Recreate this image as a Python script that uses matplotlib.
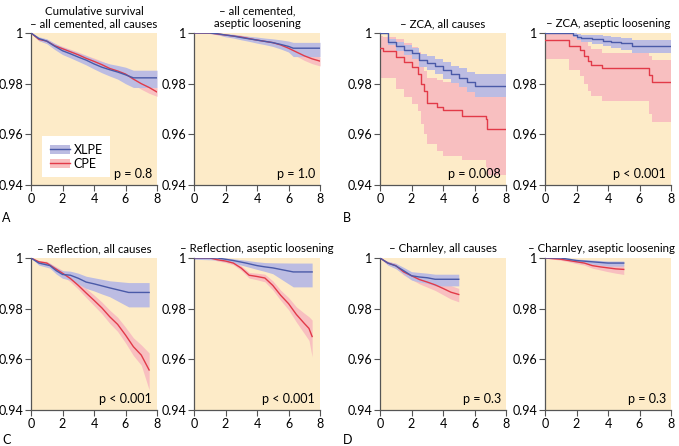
import matplotlib
matplotlib.use('Agg')
import matplotlib.pyplot as plt
from matplotlib.patches import Patch
from matplotlib.lines import Line2D

plt.rcParams['font.family'] = ['Lato', 'DejaVu Sans']
plt.rcParams['font.size'] = 9

# ---- data (years, cumulative survival, 95% band) ----
# A1: all cemented, all causes
a1_xlpe_t = [0, 0.5, 1, 1.5, 2, 2.5, 3, 3.5, 4, 4.5, 5, 5.5, 6, 6.5, 8]
a1_xlpe_s = [1.0, 0.9978, 0.9968, 0.9948, 0.9930, 0.9918, 0.9905, 0.9893, 0.9878, 0.9865, 0.9855, 0.9846, 0.9835, 0.9823, 0.9823]
a1_xlpe_lo = [1.0, 0.9970, 0.9958, 0.9935, 0.9915, 0.9902, 0.9888, 0.9874, 0.9858, 0.9843, 0.9830, 0.9818, 0.9800, 0.9785, 0.9785]
a1_xlpe_hi = [1.0, 0.9985, 0.9977, 0.9960, 0.9944, 0.9933, 0.9921, 0.9911, 0.9897, 0.9887, 0.9878, 0.9872, 0.9865, 0.9853, 0.9853]
a1_cpe_t = [0, 0.5, 1, 1.5, 2, 2.5, 3, 3.5, 4, 4.5, 5, 5.5, 6, 6.5, 7, 7.5, 8]
a1_cpe_s = [1.0, 0.9975, 0.9968, 0.9950, 0.9938, 0.9926, 0.9914, 0.9900, 0.9888, 0.9875, 0.9860, 0.9850, 0.9838, 0.9818, 0.9800, 0.9785, 0.9767]
a1_cpe_lo = [1.0, 0.9969, 0.9961, 0.9942, 0.9929, 0.9916, 0.9903, 0.9888, 0.9875, 0.9861, 0.9845, 0.9833, 0.9819, 0.9797, 0.9778, 0.9762, 0.9750]
a1_cpe_hi = [1.0, 0.9981, 0.9975, 0.9958, 0.9947, 0.9936, 0.9925, 0.9912, 0.9901, 0.9889, 0.9875, 0.9867, 0.9857, 0.9839, 0.9822, 0.9808, 0.9784]

# A2: all cemented, aseptic loosening
a2_xlpe_t = [0, 1, 1.5, 2, 2.5, 3, 3.5, 4, 4.5, 5, 5.5, 6, 6.3, 8]
a2_xlpe_s = [1.0, 1.0, 0.9997, 0.9992, 0.9988, 0.9982, 0.9977, 0.9972, 0.9967, 0.9962, 0.9955, 0.9947, 0.9940, 0.9940]
a2_xlpe_lo = [1.0, 0.9998, 0.9993, 0.9985, 0.9980, 0.9973, 0.9967, 0.9960, 0.9954, 0.9947, 0.9937, 0.9925, 0.9907, 0.9907]
a2_xlpe_hi = [1.0, 1.0, 1.0, 0.9998, 0.9995, 0.9991, 0.9987, 0.9984, 0.9980, 0.9977, 0.9973, 0.9968, 0.9963, 0.9963]
a2_cpe_t = [0, 1, 1.5, 2, 2.5, 3, 3.5, 4, 4.5, 5, 5.5, 6, 6.5, 7, 7.5, 8]
a2_cpe_s = [1.0, 1.0, 0.9996, 0.9992, 0.9988, 0.9984, 0.9978, 0.9972, 0.9967, 0.9962, 0.9953, 0.9940, 0.9925, 0.9910, 0.9898, 0.9889]
a2_cpe_lo = [1.0, 0.9998, 0.9993, 0.9988, 0.9983, 0.9978, 0.9971, 0.9964, 0.9958, 0.9952, 0.9941, 0.9926, 0.9909, 0.9892, 0.9879, 0.9870]
a2_cpe_hi = [1.0, 1.0, 0.9999, 0.9996, 0.9993, 0.9990, 0.9985, 0.9980, 0.9976, 0.9972, 0.9965, 0.9954, 0.9941, 0.9928, 0.9917, 0.9905]

# B1: ZCA, all causes
b1_xlpe_t = [0, 0.5, 1, 1.5, 2, 2.5, 3, 3.5, 4, 4.5, 5, 5.5, 6, 8]
b1_xlpe_s = [1.0, 0.9965, 0.9947, 0.9932, 0.9920, 0.9892, 0.9883, 0.9870, 0.9853, 0.9837, 0.9824, 0.9807, 0.9790, 0.9790]
b1_xlpe_lo = [1.0, 0.9952, 0.9930, 0.9912, 0.9897, 0.9866, 0.9855, 0.9840, 0.9820, 0.9802, 0.9786, 0.9768, 0.9747, 0.9747]
b1_xlpe_hi = [1.0, 0.9978, 0.9963, 0.9951, 0.9942, 0.9918, 0.9910, 0.9899, 0.9885, 0.9871, 0.9861, 0.9847, 0.9837, 0.9837]
b1_cpe_t = [0, 0.2, 1, 1.5, 2, 2.4, 2.6, 2.8, 3, 3.6, 4, 5.2, 6.7, 6.8, 8]
b1_cpe_s = [0.9940, 0.9927, 0.9907, 0.9887, 0.9867, 0.9840, 0.9800, 0.9773, 0.9723, 0.9707, 0.9696, 0.9673, 0.9660, 0.9623, 0.9623]
b1_cpe_lo = [0.9824, 0.9824, 0.9780, 0.9747, 0.9720, 0.9693, 0.9640, 0.9600, 0.9560, 0.9533, 0.9513, 0.9500, 0.9473, 0.9440, 0.9440]
b1_cpe_hi = [0.9990, 0.9985, 0.9975, 0.9960, 0.9945, 0.9925, 0.9880, 0.9850, 0.9824, 0.9815, 0.9805, 0.9797, 0.9790, 0.9775, 0.9775]

# B2: ZCA, aseptic loosening
b2_xlpe_t = [0, 1.8, 2.0, 2.3, 3.0, 3.7, 4.2, 4.8, 5.5, 8]
b2_xlpe_s = [1.0, 0.9993, 0.9985, 0.9980, 0.9977, 0.9970, 0.9965, 0.9960, 0.9950, 0.9950]
b2_xlpe_lo = [0.9995, 0.9985, 0.9972, 0.9963, 0.9957, 0.9947, 0.9940, 0.9933, 0.9923, 0.9923]
b2_xlpe_hi = [1.0, 1.0, 0.9995, 0.9993, 0.9991, 0.9987, 0.9984, 0.9981, 0.9974, 0.9974]
b2_cpe_t = [0, 1.5, 2.2, 2.5, 2.7, 2.9, 3.6, 6.6, 6.8, 8]
b2_cpe_s = [0.9973, 0.9950, 0.9933, 0.9910, 0.9890, 0.9873, 0.9860, 0.9833, 0.9807, 0.9807]
b2_cpe_lo = [0.9896, 0.9853, 0.9830, 0.9800, 0.9770, 0.9750, 0.9733, 0.9680, 0.9647, 0.9647]
b2_cpe_hi = [1.0, 0.9995, 0.9985, 0.9965, 0.9950, 0.9935, 0.9923, 0.9910, 0.9893, 0.9893]

# C1: Reflection, all causes
c1_xlpe_t = [0, 0.5, 1.2, 1.6, 2, 2.5, 3, 3.5, 4, 4.5, 5, 6.2, 7.5]
c1_xlpe_s = [1.0, 0.9980, 0.9970, 0.9950, 0.9935, 0.9932, 0.9920, 0.9905, 0.9898, 0.9890, 0.9882, 0.9864, 0.9864]
c1_xlpe_lo = [1.0, 0.9972, 0.9960, 0.9937, 0.9920, 0.9913, 0.9898, 0.9880, 0.9870, 0.9858, 0.9847, 0.9807, 0.9807]
c1_xlpe_hi = [1.0, 0.9987, 0.9979, 0.9962, 0.9950, 0.9948, 0.9940, 0.9928, 0.9922, 0.9916, 0.9910, 0.9903, 0.9903]
c1_cpe_t = [0, 0.5, 1, 1.5, 2, 2.5, 3, 3.5, 4, 4.5, 5, 5.5, 6, 6.5, 7, 7.5]
c1_cpe_s = [1.0, 0.9985, 0.9980, 0.9960, 0.9940, 0.9919, 0.9892, 0.9862, 0.9833, 0.9803, 0.9768, 0.9738, 0.9696, 0.9650, 0.9617, 0.9558]
c1_cpe_lo = [1.0, 0.9980, 0.9973, 0.9951, 0.9929, 0.9906, 0.9877, 0.9844, 0.9812, 0.9780, 0.9742, 0.9710, 0.9665, 0.9615, 0.9577, 0.9480]
c1_cpe_hi = [1.0, 0.9990, 0.9987, 0.9969, 0.9951, 0.9932, 0.9907, 0.9880, 0.9854, 0.9826, 0.9794, 0.9766, 0.9727, 0.9685, 0.9657, 0.9625]

# C2: Reflection, aseptic loosening
c2_xlpe_t = [0, 1.5, 2, 2.5, 3.3, 4, 4.5, 5, 6.3, 7.5]
c2_xlpe_s = [1.0, 1.0, 0.9995, 0.9990, 0.9980, 0.9970, 0.9965, 0.9961, 0.9945, 0.9945]
c2_xlpe_lo = [0.9995, 0.9992, 0.9986, 0.9980, 0.9967, 0.9955, 0.9947, 0.9938, 0.9886, 0.9886]
c2_xlpe_hi = [1.0, 1.0, 1.0, 0.9997, 0.9991, 0.9985, 0.9982, 0.9981, 0.9980, 0.9980]
c2_cpe_t = [0, 1, 1.5, 2, 2.5, 3, 3.5, 4, 4.5, 5, 5.5, 6, 6.5, 7, 7.3, 7.5]
c2_cpe_s = [1.0, 1.0, 0.9993, 0.9988, 0.9980, 0.9960, 0.9932, 0.9927, 0.9921, 0.9892, 0.9853, 0.9820, 0.9777, 0.9742, 0.9722, 0.9690]
c2_cpe_lo = [1.0, 0.9997, 0.9988, 0.9982, 0.9973, 0.9951, 0.9921, 0.9914, 0.9906, 0.9874, 0.9833, 0.9796, 0.9747, 0.9702, 0.9675, 0.9610]
c2_cpe_hi = [1.0, 1.0, 0.9998, 0.9994, 0.9987, 0.9969, 0.9943, 0.9940, 0.9936, 0.9910, 0.9873, 0.9844, 0.9807, 0.9782, 0.9768, 0.9755]

# D1: Charnley, all causes
d1_xlpe_t = [0, 0.5, 1, 1.5, 2, 2.5, 3, 3.5, 5]
d1_xlpe_s = [1.0, 0.9980, 0.9969, 0.9950, 0.9930, 0.9925, 0.9922, 0.9916, 0.9916]
d1_xlpe_lo = [1.0, 0.9972, 0.9958, 0.9936, 0.9913, 0.9905, 0.9900, 0.9890, 0.9890]
d1_xlpe_hi = [1.0, 0.9987, 0.9979, 0.9963, 0.9946, 0.9943, 0.9940, 0.9936, 0.9936]
d1_cpe_t = [0, 0.5, 1, 1.5, 2, 2.5, 3, 3.5, 4, 4.5, 5]
d1_cpe_s = [1.0, 0.9980, 0.9970, 0.9945, 0.9930, 0.9915, 0.9905, 0.9894, 0.9880, 0.9865, 0.9856]
d1_cpe_lo = [1.0, 0.9973, 0.9960, 0.9933, 0.9915, 0.9898, 0.9885, 0.9872, 0.9855, 0.9838, 0.9827]
d1_cpe_hi = [1.0, 0.9986, 0.9979, 0.9956, 0.9944, 0.9931, 0.9923, 0.9914, 0.9903, 0.9891, 0.9880]

# D2: Charnley, aseptic loosening
d2_xlpe_t = [0, 1, 1.5, 2, 3, 4, 5]
d2_xlpe_s = [1.0, 1.0, 0.9995, 0.9990, 0.9985, 0.9980, 0.9980]
d2_xlpe_lo = [1.0, 0.9997, 0.9990, 0.9983, 0.9976, 0.9968, 0.9968]
d2_xlpe_hi = [1.0, 1.0, 0.9999, 0.9996, 0.9992, 0.9988, 0.9988]
d2_cpe_t = [0, 1, 1.5, 2, 2.5, 3, 3.5, 4, 4.5, 5]
d2_cpe_s = [1.0, 0.9995, 0.9990, 0.9985, 0.9980, 0.9970, 0.9965, 0.9961, 0.9957, 0.9955]
d2_cpe_lo = [1.0, 0.9991, 0.9985, 0.9978, 0.9972, 0.9960, 0.9953, 0.9946, 0.9940, 0.9935]
d2_cpe_hi = [1.0, 0.9998, 0.9995, 0.9991, 0.9987, 0.9979, 0.9976, 0.9974, 0.9973, 0.9973]

titles = ['Cumulative survival\n\u2013 all cemented, all causes', '\u2013 all cemented,\naseptic loosening',
          '\u2013 ZCA, all causes', '\u2013 ZCA, aseptic loosening',
          '\u2013 Reflection, all causes', '\u2013 Reflection, aseptic loosening',
          '\u2013 Charnley, all causes', '\u2013 Charnley, aseptic loosening']
p_values = ['p = 0.8', 'p = 1.0', 'p = 0.008', 'p < 0.001', 'p < 0.001', 'p < 0.001', 'p = 0.3', 'p = 0.3']
panel_letters = ['A', 'B', 'C', 'D']

curves = [
    (a1_xlpe_t, a1_xlpe_s, a1_xlpe_lo, a1_xlpe_hi, a1_cpe_t, a1_cpe_s, a1_cpe_lo, a1_cpe_hi),
    (a2_xlpe_t, a2_xlpe_s, a2_xlpe_lo, a2_xlpe_hi, a2_cpe_t, a2_cpe_s, a2_cpe_lo, a2_cpe_hi),
    (b1_xlpe_t, b1_xlpe_s, b1_xlpe_lo, b1_xlpe_hi, b1_cpe_t, b1_cpe_s, b1_cpe_lo, b1_cpe_hi),
    (b2_xlpe_t, b2_xlpe_s, b2_xlpe_lo, b2_xlpe_hi, b2_cpe_t, b2_cpe_s, b2_cpe_lo, b2_cpe_hi),
    (c1_xlpe_t, c1_xlpe_s, c1_xlpe_lo, c1_xlpe_hi, c1_cpe_t, c1_cpe_s, c1_cpe_lo, c1_cpe_hi),
    (c2_xlpe_t, c2_xlpe_s, c2_xlpe_lo, c2_xlpe_hi, c2_cpe_t, c2_cpe_s, c2_cpe_lo, c2_cpe_hi),
    (d1_xlpe_t, d1_xlpe_s, d1_xlpe_lo, d1_xlpe_hi, d1_cpe_t, d1_cpe_s, d1_cpe_lo, d1_cpe_hi),
    (d2_xlpe_t, d2_xlpe_s, d2_xlpe_lo, d2_xlpe_hi, d2_cpe_t, d2_cpe_s, d2_cpe_lo, d2_cpe_hi),
]
step_panel = [False, False, True, True, False, False, False, False]

BG = '#fdebc8'
BLUE = '#4a5aa8'
BLUE_BAND = '#bcbce2'
RED = '#e23a48'
RED_BAND = '#f8bfc0'
SPINE = '#555555'

fig = plt.figure(figsize=(6.79, 4.46), dpi=100)
W, H = 679.0, 446.0
lefts = [31, 194, 380, 545]
width = 126
tops = [33, 258]
height = 152


def draw(ax, t, s, lo, hi, line_c, band_c, step, z):
    if step:
        ax.fill_between(t, lo, hi, step='post', color=band_c, lw=0, zorder=z)
        ax.plot(t, s, drawstyle='steps-post', color=line_c, lw=1.0, zorder=z + 2)
    else:
        ax.fill_between(t, lo, hi, color=band_c, lw=0, zorder=z)
        ax.plot(t, s, color=line_c, lw=1.0, zorder=z + 2)


for i in range(8):
    row, col = divmod(i, 4)
    ax = fig.add_axes([lefts[col] / W, 1 - (tops[row] + height) / H, width / W, height / H])
    ax.set_facecolor(BG)
    xt, xs, xlo, xhi, ct, cs, clo, chi = curves[i]
    draw(ax, ct, cs, clo, chi, RED, RED_BAND, step_panel[i], 1)
    draw(ax, xt, xs, xlo, xhi, BLUE, BLUE_BAND, step_panel[i], 2)
    ax.set_xlim(0, 8)
    ax.set_ylim(0.94, 1.0)
    ax.set_xticks([0, 2, 4, 6, 8])
    ax.set_yticks([0.94, 0.96, 0.98, 1.0])
    ax.set_yticklabels(['0.94', '0.96', '0.98', '1'])
    for side in ['top', 'right']:
        ax.spines[side].set_visible(False)
    for side in ['left', 'bottom']:
        ax.spines[side].set_color(SPINE)
        ax.spines[side].set_linewidth(0.9)
    ax.tick_params(direction='out', length=4, width=0.8, color=SPINE, labelsize=9, pad=2)
    ax.tick_params(axis='y', pad=1.5)
    title = ax.set_title(titles[i], fontsize=8.3, pad=4, linespacing=1.2)
    if i == 7:
        title.set_x(0.45)
    ax.text(0.96, 0.03, p_values[i], transform=ax.transAxes, ha='right', va='bottom', fontsize=9)
    if i == 0:
        h1 = (Patch(facecolor=BLUE_BAND, edgecolor='none'), Line2D([], [], color=BLUE, lw=1.0))
        h2 = (Patch(facecolor=RED_BAND, edgecolor='none'), Line2D([], [], color=RED, lw=1.0))
        leg = ax.legend([h1, h2], ['XLPE', 'CPE'], loc='lower left', bbox_to_anchor=(0.04, 0.01),
                        frameon=True, fancybox=False, fontsize=9, handlelength=1.6,
                        handleheight=0.7, handletextpad=0.3, labelspacing=0.15, borderpad=0.6)
        leg.get_frame().set_facecolor('white')
        leg.get_frame().set_edgecolor('none')
        leg.get_frame().set_alpha(1.0)

fig.text(2 / W, 1 - 218 / H, panel_letters[0], fontsize=9, va='center', ha='left')
fig.text(343 / W, 1 - 218 / H, panel_letters[1], fontsize=9, va='center', ha='left')
fig.text(2 / W, 1 - 440 / H, panel_letters[2], fontsize=9, va='center', ha='left')
fig.text(343 / W, 1 - 440 / H, panel_letters[3], fontsize=9, va='center', ha='left')

fig.savefig('out.png', dpi=100, facecolor='white')
